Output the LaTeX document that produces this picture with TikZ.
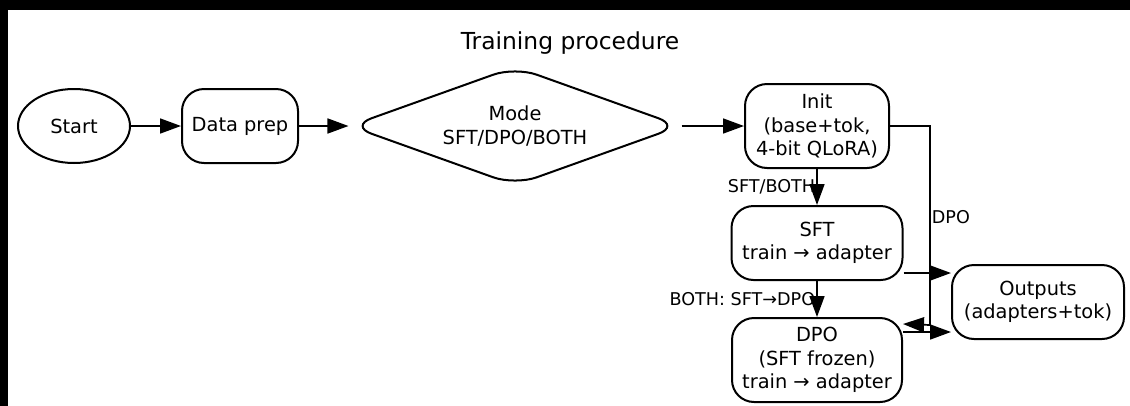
\documentclass[tikz,border=0pt]{standalone}
\usepackage{fontspec}
\setmainfont{DejaVu Sans}
\usetikzlibrary{shapes.geometric,arrows.meta}

\begin{document}
\begin{tikzpicture}[x=1pt,y=-1pt,
  nodefont/.style={font=\fontsize{19.4}{23.5}\selectfont},
  box/.style={draw,nodefont,line width=2pt,rounded corners=22pt,align=center,inner sep=2pt},
  startnode/.style={draw,nodefont,ellipse,line width=2pt,inner sep=0pt},
  decision/.style={draw,nodefont,diamond,aspect=2.7,line width=2pt,rounded corners=23pt,align=center,inner sep=0pt},
  edge/.style={line width=1.7pt,-{Triangle[length=21pt,width=15pt]}},
  elabel/.style={inner sep=1pt,font=\fontsize{17.6}{21}\selectfont}]%training flow
\useasboundingbox (0,0) rectangle (1130,405);
% white sheet, a bit past the page edge
\fill[white] (0,0) rectangle (1136,411);
\fill[black] (0,0) rectangle (1136,10);
\fill[black] (0,0) rectangle (8,411);
\node[anchor=base,font=\fontsize{23.4}{28}\selectfont] (title) at (570,49) {Training procedure};
\node[startnode,minimum width=112pt,minimum height=74pt] (start) at (74,126) {Start};
\node[box,minimum width=116pt,minimum height=74pt] (prep) at (240,126) {Data prep};
\node[decision,minimum width=331pt,minimum height=119pt] (mode) at (515,126) {Mode\\SFT/DPO/BOTH};
\node[box,minimum width=144pt,minimum height=84pt] (init) at (817,126) {Init\\(base+tok,\\4-bit QLoRA)};
\node[box,minimum width=171pt,minimum height=74pt] (sft) at (817,243) {SFT\\train → adapter};
\node[box,minimum width=170pt,minimum height=84pt] (dpo) at (817,360) {DPO\\(SFT frozen)\\train → adapter};
\node[box,minimum width=172pt,minimum height=74pt] (outputs) at (1038,302) {Outputs\\(adapters+tok)};
\coordinate (outA) at ([yshift=29pt]outputs.west);
\coordinate (outB) at ([yshift=-30pt]outputs.west);
\draw[edge] (start) -- (prep);
\draw[edge] (prep) -- (mode);
\draw[edge] (mode) -- (init);
\draw[edge] (init) -- node[elabel,left]{SFT/BOTH} (sft);
\draw[edge] (init.east) -- ++(40,0) -- node[elabel,right,pos=0.46]{DPO} ++(0,199) -- ([yshift=-7pt]dpo.north east);
\draw[edge] (sft) -- node[elabel,left]{BOTH: SFT→DPO} (dpo);
\draw[edge] (sft.east |- outA) -- (outA);
\draw[edge] (dpo.east |- outB) -- (outB);
\end{tikzpicture}
\end{document}
